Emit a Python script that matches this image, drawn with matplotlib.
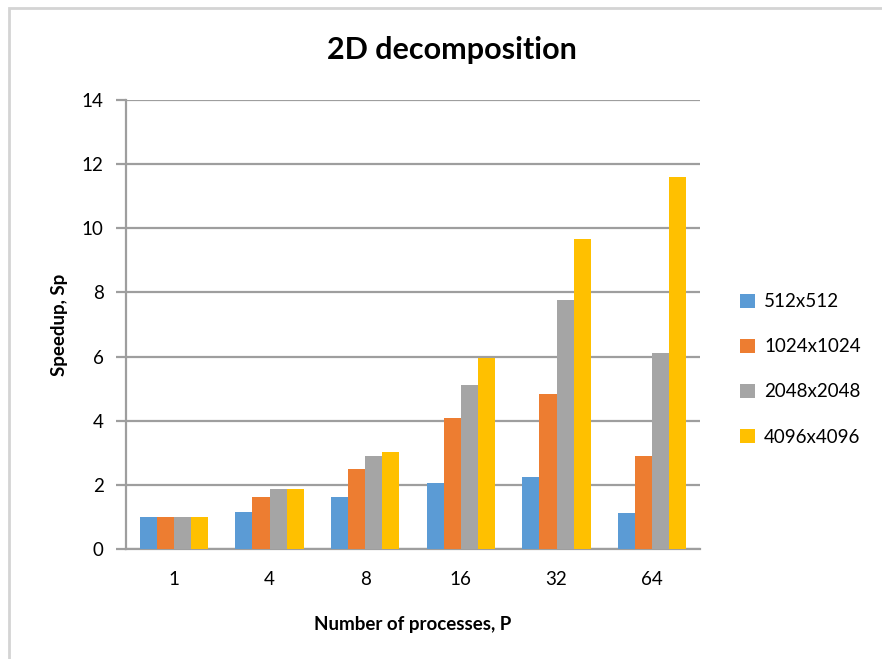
import matplotlib
matplotlib.use("Agg")
import matplotlib.pyplot as plt
import numpy as np
from matplotlib.patches import Rectangle

plt.rcParams['font.family'] = ['Lato', 'DejaVu Sans']

# data
procs = ["1", "4", "8", "16", "32", "64"]
series = ["512x512", "1024x1024", "2048x2048", "4096x4096"]
s512 = [1.0, 1.16, 1.63, 2.05, 2.26, 1.11]
s1024 = [1.0, 1.63, 2.50, 4.07, 4.82, 2.91]
s2048 = [1.0, 1.86, 2.91, 5.10, 7.77, 6.10]
s4096 = [1.0, 1.86, 3.02, 5.97, 9.68, 11.60]
colors = ["#5B9BD5", "#ED7D31", "#A5A5A5", "#FFC000"]

W, H = 882, 659
fig = plt.figure(figsize=(W / 100, H / 100), dpi=100)

# outer chart frame
fig.patches.append(Rectangle((9 / W, -0.01), 1.0, 1 - 8 / H + 0.01, transform=fig.transFigure,
                             fill=False, edgecolor="#D4D4D4", linewidth=2))

ax = fig.add_axes([126 / W, 1 - 549 / H, (700 - 126) / W, (549 - 100) / H])

x = np.arange(len(procs))
bw = 0.178
for i, (vals, name) in enumerate(zip([s512, s1024, s2048, s4096], series)):
    ax.bar(x + (i - 1.5) * bw, vals, bw, color=colors[i], label=name, zorder=3)

ax.set_xlim(-0.5, len(procs) - 0.5)
ax.set_ylim(0, 14)
ax.set_yticks(range(0, 15, 2))
ax.set_xticks(x)
ax.set_xticklabels(procs)
ax.grid(axis="y", color="#9E9E9E", linewidth=1.6, zorder=0)

for s in ["top", "right"]:
    ax.spines[s].set_visible(False)
ax.spines["left"].set_color("#9E9E9E")
ax.spines["left"].set_linewidth(1.6)
ax.spines["bottom"].set_color("#9E9E9E")
ax.spines["bottom"].set_linewidth(1.6)
ax.tick_params(axis="y", length=7, width=1.6, color="#9E9E9E", labelsize=13.5, pad=9)
ax.tick_params(axis="x", length=0, labelsize=13.5, pad=16)

ax.set_xlabel("Number of processes, P", fontsize=13.5, fontweight="bold", labelpad=20)
ax.set_ylabel("Speedup, Sp", fontsize=13.5, fontweight="bold", labelpad=10)

fig.text(452 / W, 1 - 50 / H, "2D decomposition", fontsize=22, fontweight="bold",
         ha="center", va="center")

ax.legend(loc="center left", bbox_to_anchor=(1.04, 0.40), frameon=False, fontsize=13.5,
          handlelength=0.8, handleheight=0.8, handletextpad=0.5, labelspacing=1.5)

fig.savefig("out.png", dpi=100)
